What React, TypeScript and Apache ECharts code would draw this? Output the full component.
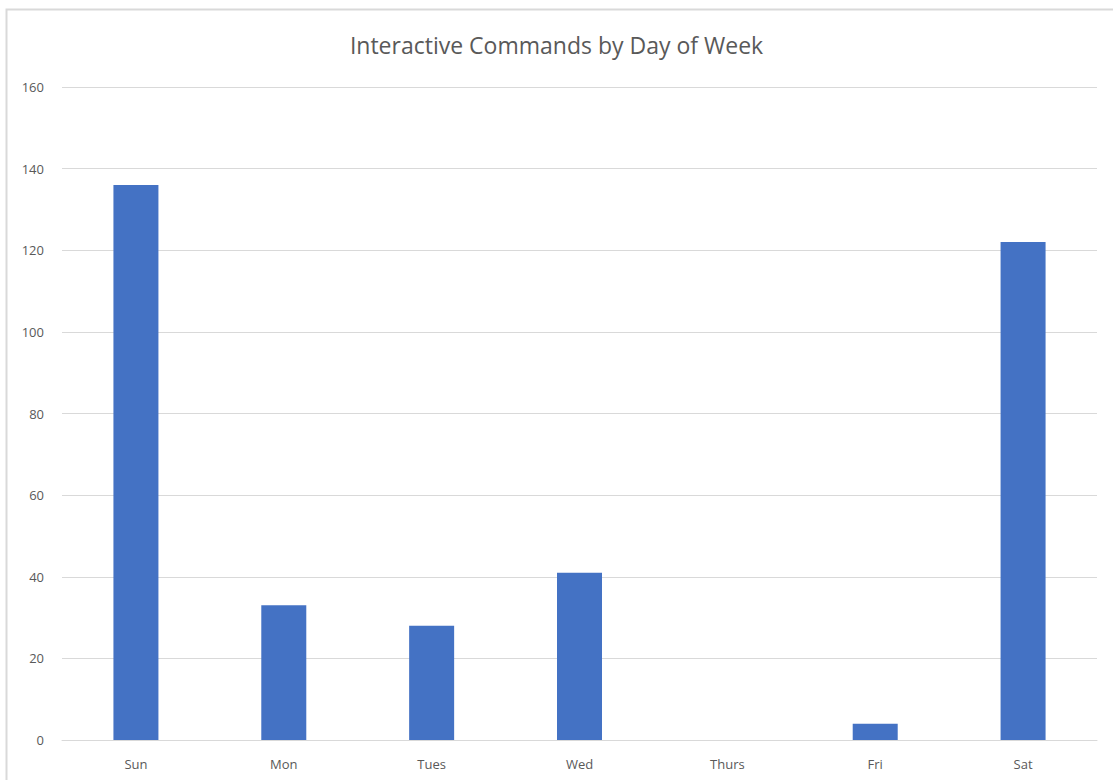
import React, { useEffect, useRef } from "react";
import * as echarts from "echarts";

const categories = ["Sun", "Mon", "Tues", "Wed", "Thurs", "Fri", "Sat"];
const values = [136, 33, 28, 41, 0, 4, 122];
const title = "Interactive Commands by Day of Week";

export default function App() {
  const ref = useRef<HTMLDivElement>(null);
  useEffect(() => {
    const chart = echarts.init(ref.current!, null, { renderer: "svg" });
    chart.setOption({
      animation: false,
      backgroundColor: "#ffffff",
      title: {
        text: title,
        left: "center",
        top: 28,
        textStyle: {
          fontFamily: "Open Sans",
          fontSize: 23,
          fontWeight: "normal",
          color: "#595959",
        },
      },
      graphic: [
        {
          type: "rect",
          shape: { x: 6.5, y: 9.5, width: 1200, height: 900 },
          style: { fill: "none", stroke: "#d9d9d9", lineWidth: 2 },
          silent: true,
        },
      ],
      grid: { left: 62, right: 16, top: 87, bottom: 40 },
      xAxis: {
        type: "category",
        data: categories,
        axisLine: { lineStyle: { color: "#d9d9d9", width: 1 } },
        axisTick: { show: false },
        axisLabel: {
          color: "#595959",
          fontFamily: "Open Sans",
          fontSize: 13,
          margin: 17,
        },
      },
      yAxis: {
        type: "value",
        min: 0,
        max: 160,
        interval: 20,
        axisLine: { show: false },
        axisTick: { show: false },
        splitLine: { lineStyle: { color: "#d9d9d9", width: 1 } },
        axisLabel: {
          color: "#595959",
          fontFamily: "Open Sans",
          fontSize: 13,
          margin: 18,
        },
      },
      series: [
        {
          type: "bar",
          data: values,
          barWidth: 45,
          itemStyle: { color: "#4472C4" },
        },
      ],
    });
    return () => chart.dispose();
  }, []);
  return (
    <div
      ref={ref}
      style={{ position: "fixed", left: 0, top: 0, width: 1113, height: 780 }}
    />
  );
}
